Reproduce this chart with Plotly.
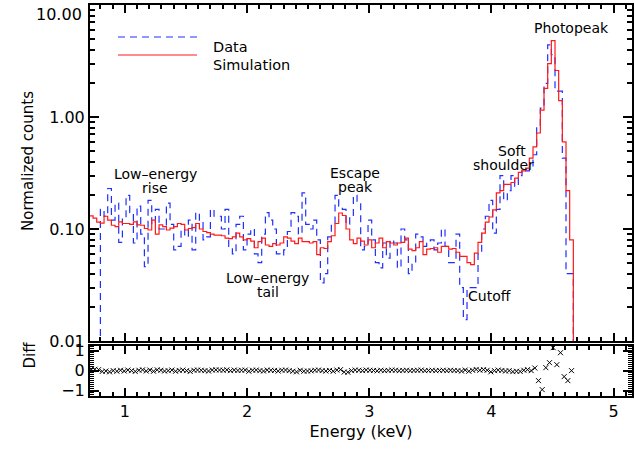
import numpy as np
import plotly.graph_objects as go

# ---- data ----
E_START = 0.71      # keV, first bin left edge
BIN_W = 0.03        # keV
sim = [0.131,0.125,0.115,0.113,0.13,0.12,0.108,0.105,0.116,0.112,0.112,0.11,0.116,0.109,0.108,0.101,0.098,0.12,0.09,0.109,
       0.105,0.098,0.102,0.105,0.112,0.11,0.098,0.101,0.103,0.112,0.1,0.095,0.093,0.09,0.088,
       0.088,0.087,0.083,0.082,0.085,0.092,0.085,0.08,0.082,0.078,0.068,0.077,0.083,0.072,0.07,0.074,0.072,0.075,0.085,0.083,
       0.078,0.074,0.083,0.077,0.077,0.075,0.077,0.059,0.068,0.067,0.077,0.087,0.112,0.139,0.132,
       0.1,0.08,0.074,0.083,0.078,0.072,0.08,0.068,0.075,0.083,0.068,0.077,0.075,0.072,0.075,0.076,0.083,0.066,0.064,0.068,
       0.077,0.059,0.066,0.067,0.068,0.062,0.07,0.07,0.066,0.067,0.062,0.057,0.057,0.05,
       0.048,0.061,0.076,0.092,0.115,0.128,0.148,0.21,0.22,0.25,0.25,0.26,0.285,0.32,0.33,0.35,0.43,0.54,0.72,1.15,
       1.8,3.0,4.8,2.6,1.4,0.6,0.22,0.08]
data = [0.0,0.0,0.0,
        0.15,0.13,0.23,0.12,0.17,0.076,0.125,0.20,0.14,0.075,0.16,0.09,0.046,0.18,0.11,0.15,0.10,0.10,0.17,0.11,0.065,0.07,
        0.10,0.085,0.12,0.065,0.14,0.12,0.08,0.085,0.15,0.13,
        0.13,0.1,0.15,0.07,0.06,0.11,0.13,0.065,0.09,0.10,0.06,0.05,0.09,0.14,0.12,0.10,0.06,0.058,0.065,0.095,
        0.14,0.13,0.09,0.21,0.11,0.10,0.12,0.08,0.033,0.04,0.085,0.11,0.2,0.16,0.15,
        0.11,0.13,0.2,0.17,0.065,0.07,0.12,0.08,0.05,0.045,0.075,0.055,0.08,0.075,0.045,0.1,0.08,0.04,0.05,0.09,
        0.085,0.07,0.075,0.08,0.065,0.075,0.1,0.07,0.05,0.05,0.09,0.03,0.0155,0.03,
        0.03,0.03,0.06,0.1,0.13,0.18,0.092,0.15,0.3,0.18,0.22,0.3,0.24,0.3,0.34,0.33,0.36,0.46,0.8,1.2,
        2.0,4.4,3.6,1.7,1.7,0.43,0.04,0.04]
diff = [0.08,0.07,0.05,-0.04,-0.02,-0.06,0.0,-0.03,0.02,-0.02,0.03,0.0,-0.04,0.02,0.04,-0.02,0.03,-0.03,0.04,0.02,
        -0.02,0.0,0.03,-0.03,0.01,0.03,0.0,-0.04,0.02,0.03,0.02,0.0,-0.02,0.03,0.04,
        0.03,0.02,0.04,0.0,0.03,0.01,0.02,0.03,-0.03,0.02,0.03,0.0,-0.02,0.03,0.02,0.01,-0.02,0.02,0.03,0.0,
        -0.03,-0.06,0.02,-0.03,-0.02,-0.01,0.02,0.03,0.0,-0.02,0.01,-0.03,0.03,0.05,-0.07,
        -0.08,0.0,0.03,0.02,0.0,0.03,0.02,0.01,-0.01,0.02,0.0,0.01,0.03,0.02,0.0,0.01,0.02,0.0,0.01,0.02,
        0.03,0.0,0.01,0.02,0.0,0.01,0.02,0.0,0.02,0.01,0.0,-0.02,0.03,-0.03,0.02,
        0.06,0.02,0.05,0.02,-0.06,0.0,0.03,0.01,-0.02,0.0,-0.05,-0.03,-0.04,0.02,0.05,0.0,
        0.13,-0.5,-0.95,0.15,0.4,1.15,0.3,0.9,-0.3,-0.5,0.0]

y_ticks = [0.01, 0.1, 1, 10]
y_ticktext = ["0.01", "0.10", "1.00", ""]
x_ticks = [1, 2, 3, 4, 5]

n = len(sim)
edges = np.round(E_START + BIN_W * np.arange(n + 1), 4)
centers = edges[:-1] + BIN_W / 2
FLOOR = 1e-4  # empty bins fall below the axis

def steps(vals):
    v = [x if x > 0 else FLOOR for x in vals]
    return list(edges), v + [FLOOR]

FONT = "DejaVu Sans"
BLUE = "#1f2fff"
RED = "#ff1a1a"

fig = go.Figure()
xs, ys = steps(data)
fig.add_trace(go.Scatter(x=xs, y=ys, mode="lines", line_shape="hv",
                         line=dict(color=BLUE, width=1.2, dash="7px,5px"),
                         name="Data", xaxis="x", yaxis="y", showlegend=False))
xs, ys = steps(sim)
fig.add_trace(go.Scatter(x=xs, y=ys, mode="lines", line_shape="hv",
                         line=dict(color=RED, width=1.2),
                         name="Simulation", xaxis="x", yaxis="y", showlegend=False))
fig.add_trace(go.Scatter(x=centers[:len(diff)], y=diff, mode="markers",
                         marker=dict(symbol="x-thin", size=5, line=dict(width=1, color="black")),
                         xaxis="x2", yaxis="y2", showlegend=False))

L, R, T, B = 90, 3, 5, 56
W, H = 635, 452
ph = H - T - B
pw = W - L - R
def py(p):  # pixel y -> paper
    return (H - B - p) / ph
def px(p):
    return (p - L) / pw

axis_common = dict(showline=True, linewidth=2, linecolor="black", mirror="allticks",
                   ticks="inside", tickcolor="black", showgrid=False, zeroline=False,
                   automargin=False,
                   tickfont=dict(family=FONT, size=16, color="black"))
xr = [0.715, 5.15]
minor_log = [m * 10.0 ** k for k in (-2, -1, 0) for m in range(2, 10)]

fig.update_layout(
    width=W, height=H, margin=dict(l=L, r=R, t=T, b=B, autoexpand=False),
    paper_bgcolor="white", plot_bgcolor="white",
    font=dict(family=FONT, color="black"),
    xaxis=dict(axis_common, domain=[0, 1], anchor="y", range=xr, showticklabels=False,
               tickvals=x_ticks, ticklen=8, tickwidth=1.5,
               minor=dict(dtick=0.1, ticks="inside", ticklen=4, tickcolor="black"),
               matches="x2"),
    yaxis=dict(axis_common, domain=[py(341), 1], anchor="x", type="log", range=[-2, 1],
               tickvals=y_ticks, ticktext=y_ticktext, ticklen=9, tickwidth=1.5,
               minor=dict(tickvals=minor_log, ticks="inside", ticklen=5, tickcolor="black")),
    xaxis2=dict(axis_common, domain=[0, 1], anchor="y2", range=xr,
                tickvals=x_ticks, ticklen=8, tickwidth=1.5,
                minor=dict(dtick=0.1, ticks="inside", ticklen=4, tickcolor="black"),
                title=dict(text="Energy (keV)", font=dict(family=FONT, size=16), standoff=6)),
    yaxis2=dict(axis_common, domain=[0, py(345.5)], anchor="x2", range=[-1.27, 1.26],
                tickvals=[-1, 0, 1], ticktext=["\u22121", "0", "1"], ticklen=9, tickwidth=1.5,
                minor=dict(dtick=0.1, ticks="inside", ticklen=4, tickwidth=0.8, tickcolor="black")),
)

ann = []
def txt(x, y, s, size=14, **kw):
    d = dict(x=x, y=y, text=s, showarrow=False, font=dict(family=FONT, size=size, color="black"),
             xref="x", yref="y")
    d.update(kw)
    ann.append(d)

# region labels (x in keV, y in log10 counts)
txt(1.248, -0.51, "Low\u2013energy")
txt(1.248, -0.635, "rise")
txt(2.169, -1.44, "Low\u2013energy")
txt(2.169, -1.565, "tail")
txt(2.885, -0.50, "Escape")
txt(2.885, -0.625, "peak")
txt(3.981, -1.597, "Cutoff")
txt(4.17, -0.30, "Soft")
txt(4.10, -0.425, "shoulder")
txt(4.656, 0.793, "Photopeak")

# top y tick label, kept inside the figure
ann.append(dict(x=0, y=1, xref="paper", yref="y", text="10.00", showarrow=False,
                xanchor="right", yanchor="top", xshift=-6, yshift=2,
                font=dict(family=FONT, size=16, color="black")))
# axis titles
ann.append(dict(x=px(17), y=py(161), xref="paper", yref="paper", text="Normalized counts",
                textangle=-90, showarrow=False, font=dict(family=FONT, size=15, color="black")))
ann.append(dict(x=px(18), y=py(371), xref="paper", yref="paper", text="Diff",
                textangle=-90, showarrow=False, font=dict(family=FONT, size=15, color="black")))
# legend
ann.append(dict(x=px(211), y=py(37), xref="paper", yref="paper", text="Data", xanchor="left",
                showarrow=False, font=dict(family=FONT, size=14.5, color="black")))
ann.append(dict(x=px(211), y=py(55), xref="paper", yref="paper", text="Simulation", xanchor="left",
                showarrow=False, font=dict(family=FONT, size=14.5, color="black")))
fig.update_layout(annotations=ann, shapes=[
    dict(type="line", xref="paper", yref="paper", x0=px(118), x1=px(197), y0=py(37), y1=py(37),
         line=dict(color=BLUE, width=1.2, dash="7px,5px")),
    dict(type="line", xref="paper", yref="paper", x0=px(118), x1=px(197), y0=py(55), y1=py(55),
         line=dict(color=RED, width=1.2)),
])

fig.write_html("out.html", config={"displayModeBar": False},
               post_script="document.body.style.margin='0';document.body.style.overflow='hidden';")
